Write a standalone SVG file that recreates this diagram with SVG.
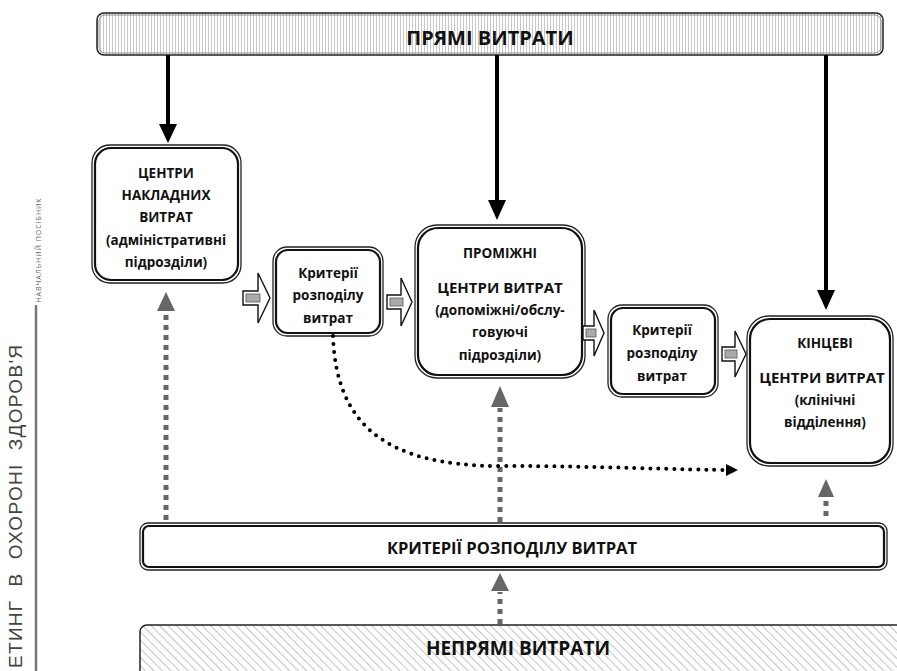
<svg xmlns="http://www.w3.org/2000/svg" width="897" height="671" viewBox="0 0 897 671">
<style>
.t{font-family:"Open Sans","Liberation Sans",sans-serif;font-weight:bold;fill:#111;text-anchor:middle}
.n{font-size:13.5px}
.o{fill:#fff;stroke:#222;stroke-width:1.3}
.i{fill:none;stroke:#111;stroke-width:2.2}
.blk{stroke:#000;stroke-width:4;fill:none}
.gd{stroke:#666;stroke-width:5;stroke-dasharray:5 5;fill:none}
.gh{fill:#666}
.ha{fill:#fff;stroke:#111;stroke-width:1.4}
.hs{fill:#aaa;stroke:#555;stroke-width:0.8}
</style>
<defs>
<pattern id="vl" width="3" height="10" patternUnits="userSpaceOnUse">
<rect width="3" height="10" fill="#fff"/><line x1="1.5" y1="0" x2="1.5" y2="10" stroke="#c8c8c8" stroke-width="1"/>
</pattern>
<pattern id="dl" width="6" height="6" patternUnits="userSpaceOnUse" patternTransform="rotate(-45)">
<rect width="6" height="6" fill="#fff"/><line x1="0" y1="0" x2="0" y2="6" stroke="#c4c4c4" stroke-width="2"/>
</pattern>
<marker id="dotArrow" markerWidth="12" markerHeight="12" refX="10" refY="6" orient="auto" markerUnits="userSpaceOnUse">
<path d="M0,0 L12,6 L0,12 Z" fill="#000"/>
</marker>
</defs>

<g id="margin">
<text transform="translate(41,250) rotate(-90)" font-family="'Open Sans','DejaVu Sans',sans-serif" font-size="7" fill="#666" text-anchor="middle" letter-spacing="1">НАВЧАЛЬНИЙ  ПОСІБНИК</text>
<line x1="36" y1="305" x2="36" y2="671" stroke="#777" stroke-width="2.5"/>
<text transform="translate(22,668) rotate(-90)" font-family="'Liberation Sans','DejaVu Sans',sans-serif" font-size="19" fill="#444" text-anchor="start" letter-spacing="1.3" xml:space="preserve">ЕТИНГ  В  ОХОРОНІ  ЗДОРОВ'Я</text>
</g>

<g id="direct">
<rect x="97" y="13" width="786" height="42" rx="7" fill="url(#vl)" stroke="#222" stroke-width="1.5"/>
<rect x="99" y="15" width="782" height="38" rx="6" fill="none" stroke="#777" stroke-width="0.8"/>
<text class="t" x="490" y="45" font-size="20">ПРЯМІ ВИТРАТИ</text>
</g>

<g id="overhead">
<rect class="o" x="92" y="145" width="149" height="138" rx="18"/>
<rect class="i" x="95" y="148" width="143" height="132" rx="16"/>
<text class="t n" x="166" y="178">ЦЕНТРИ</text>
<text class="t n" x="166" y="200">НАКЛАДНИХ</text>
<text class="t n" x="166" y="222">ВИТРАТ</text>
<text class="t n" x="166" y="245">(адміністративні</text>
<text class="t n" x="166" y="267">підрозділи)</text>
</g>

<g id="criteria1">
<rect class="o" x="273" y="247" width="110" height="89" rx="14"/>
<rect class="i" x="276" y="250" width="104" height="83" rx="12"/>
<text class="t n" x="328" y="278">Критерії</text>
<text class="t n" x="328" y="300">розподілу</text>
<text class="t n" x="328" y="323">витрат</text>
</g>

<g id="intermediate">
<rect class="o" x="415" y="225" width="170" height="153" rx="22"/>
<rect class="i" x="418" y="228" width="164" height="147" rx="20"/>
<text class="t n" x="500" y="258">ПРОМІЖНІ</text>
<text class="t" x="500" y="293" font-size="15">ЦЕНТРИ ВИТРАТ</text>
<text class="t n" x="500" y="315">(допоміжні/обслу-</text>
<text class="t n" x="500" y="337">говуючі</text>
<text class="t n" x="500" y="360">підрозділи)</text>
</g>

<g id="criteria2">
<rect class="o" x="608" y="305" width="110" height="92" rx="14"/>
<rect class="i" x="611" y="308" width="104" height="86" rx="12"/>
<text class="t n" x="662" y="335">Критерії</text>
<text class="t n" x="662" y="358">розподілу</text>
<text class="t n" x="662" y="381">витрат</text>
</g>

<g id="final">
<rect class="o" x="747" y="316" width="146" height="150" rx="22"/>
<rect class="i" x="750" y="319" width="140" height="144" rx="20"/>
<text class="t n" x="825" y="348">КІНЦЕВІ</text>
<text class="t" x="822" y="383" font-size="15">ЦЕНТРИ ВИТРАТ</text>
<text class="t n" x="825" y="405">(клінічні</text>
<text class="t n" x="825" y="427">відділення)</text>
</g>

<g id="criteriaAll">
<rect class="o" x="140" y="523" width="747" height="47" rx="8"/>
<rect class="i" x="143" y="526" width="741" height="41" rx="6"/>
<text class="t" x="512" y="554" font-size="16.5">КРИТЕРІЇ РОЗПОДІЛУ ВИТРАТ</text>
</g>

<g id="indirect">
<rect x="140" y="625" width="770" height="60" rx="7" fill="url(#dl)" stroke="#222" stroke-width="1.5"/>
<text class="t" x="518" y="655" font-size="19">НЕПРЯМІ ВИТРАТИ</text>
</g>

<g id="connectors">
<line class="blk" x1="168" y1="55" x2="168" y2="126"/>
<path d="M159,124 L177,124 L168,143 Z" fill="#000"/>
<line class="blk" x1="497" y1="55" x2="497" y2="202"/>
<path d="M488,200 L506,200 L497,220 Z" fill="#000"/>
<line class="blk" x1="826" y1="55" x2="826" y2="292"/>
<path d="M817,290 L835,290 L826,310 Z" fill="#000"/>

<path class="ha" d="M243,291 H258 V273 L270,298 L258,323 V305 H243 Z"/>
<rect class="hs" x="246" y="294" width="14" height="8"/>
<path class="ha" d="M387,295 H401 V278 L412,302 L401,326 V309 H387 Z"/>
<rect class="hs" x="390" y="298" width="13" height="8"/>
<path class="ha" d="M583,326 H594 V310 L604,333 L594,356 V340 H583 Z"/>
<rect class="hs" x="586" y="329" width="10" height="8"/>
<path class="ha" d="M722,347 H735 V331 L746,354 L735,377 V361 H722 Z"/>
<rect class="hs" x="725" y="350" width="12" height="8"/>

<line class="gd" x1="166" y1="520" x2="166" y2="312"/>
<path class="gh" d="M157,311 L175,311 L166,292 Z"/>
<line class="gd" x1="500" y1="522" x2="500" y2="408"/>
<path class="gh" d="M491,407 L509,407 L500,386 Z"/>
<line class="gd" x1="826" y1="516" x2="826" y2="498"/>
<path class="gh" d="M818,497 L834,497 L826,479 Z"/>
<line class="gd" x1="500" y1="624" x2="500" y2="592"/>
<path class="gh" d="M491,591 L509,591 L500,573 Z"/>

<path d="M333,336 C336,420 380,466 500,466 C600,466 680,470 736,470" fill="none" stroke="#000" stroke-width="4" stroke-linecap="round" stroke-dasharray="0 8" marker-end="url(#dotArrow)"/>
</g>
</svg>
